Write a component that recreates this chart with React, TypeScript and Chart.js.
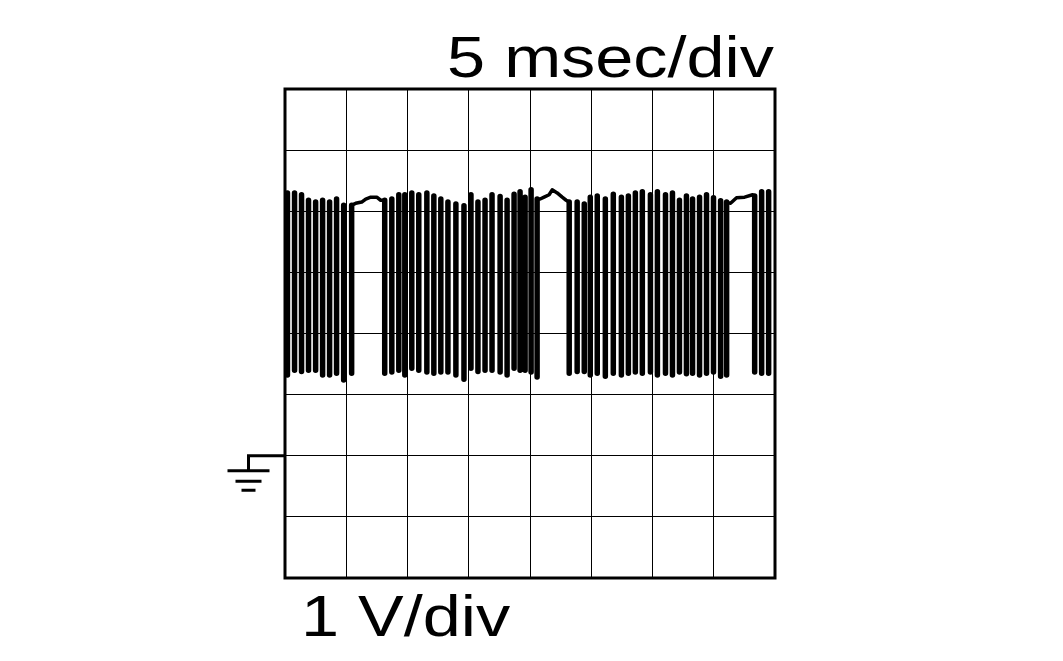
import React, { useEffect, useRef } from "react";
import { Chart, registerables } from "chart.js";

Chart.register(...registerables);

// Labels
const timeDivLabel = "5 msec/div";
const voltDivLabel = "1 V/div";

// Axis ranges (8 x 8 divisions): time in ms, level in V
const xRange = [0, 40];
const yRange = [-2, 6];
const xStep = 5;
const yStep = 1;

// Pulse centres (ms)
const pulseTimes = [
  0.2, 0.78, 1.35, 1.92, 2.5, 3.07, 3.64, 4.21, 4.79, 5.44,
  8.14, 8.72, 9.29, 9.78, 10.35, 10.92, 11.58, 12.15, 12.72, 13.3, 13.95, 14.61,
  15.18, 15.75, 16.33, 16.9, 17.56, 18.13, 18.7, 19.19, 19.6, 20.09, 20.58,
  23.2, 23.85, 24.43, 24.92, 25.49, 26.15, 26.8, 27.46, 28.03, 28.6, 29.17, 29.83,
  30.4, 31.06, 31.63, 32.2, 32.77, 33.27, 33.84, 34.41, 34.98, 35.56, 36.05,
  38.34, 38.91, 39.48,
];
// High level at each pulse (V)
const pulseHigh = [
  4.3, 4.3, 4.27, 4.18, 4.15, 4.18, 4.15, 4.2, 4.1, 4.1,
  4.18, 4.2, 4.27, 4.27, 4.3, 4.27, 4.3, 4.25, 4.2, 4.15, 4.12, 4.09,
  4.27, 4.15, 4.18, 4.27, 4.24, 4.18, 4.28, 4.32, 4.23, 4.35, 4.2,
  4.15, 4.15, 4.12, 4.23, 4.25, 4.2, 4.28, 4.23, 4.25, 4.3, 4.32, 4.27,
  4.32, 4.27, 4.3, 4.18, 4.25, 4.2, 4.23, 4.27, 4.22, 4.17, 4.15,
  4.25, 4.32, 4.32,
];
// Low level at each pulse (V)
const pulseLow = [
  1.32, 1.4, 1.38, 1.4, 1.4, 1.32, 1.32, 1.35, 1.24, 1.35,
  1.35, 1.37, 1.4, 1.32, 1.43, 1.4, 1.37, 1.35, 1.37, 1.37, 1.32, 1.25,
  1.43, 1.38, 1.4, 1.4, 1.37, 1.32, 1.43, 1.4, 1.4, 1.37, 1.29,
  1.35, 1.38, 1.38, 1.32, 1.35, 1.3, 1.35, 1.32, 1.35, 1.37, 1.35, 1.37,
  1.32, 1.35, 1.32, 1.37, 1.34, 1.35, 1.32, 1.35, 1.37, 1.3, 1.32,
  1.37, 1.35, 1.35,
];
// Idle (high) stretches between bursts
const idle1Times = [5.77, 6.26, 6.59, 7.0, 7.49, 7.81];
const idle1Levels = [4.13, 4.15, 4.2, 4.23, 4.23, 4.18];
const idle2Times = [20.83, 21.15, 21.56, 21.81, 22.22, 22.63, 22.95];
const idle2Levels = [4.2, 4.23, 4.27, 4.35, 4.3, 4.23, 4.18];
const idle3Times = [36.37, 36.86, 37.52, 38.17];
const idle3Levels = [4.13, 4.22, 4.23, 4.27];

type Pt = { x: number; y: number | null };

function buildPulses(): Pt[] {
  const pts: Pt[] = [];
  for (let i = 0; i < pulseTimes.length; i++) {
    pts.push({ x: pulseTimes[i], y: pulseHigh[i] });
    pts.push({ x: pulseTimes[i], y: pulseLow[i] });
    pts.push({ x: pulseTimes[i] + 0.01, y: null });
  }
  return pts;
}

function buildIdle(): Pt[] {
  const pts: Pt[] = [];
  const stretches = [
    [idle1Times, idle1Levels],
    [idle2Times, idle2Levels],
    [idle3Times, idle3Levels],
  ];
  stretches.forEach(([ts, vs]) => {
    const first = ts[0];
    const last = ts[ts.length - 1];
    let prev = -1;
    let next = -1;
    for (let i = 0; i < pulseTimes.length; i++) {
      if (pulseTimes[i] < first) prev = i;
      if (next < 0 && pulseTimes[i] > last) next = i;
    }
    if (prev >= 0) pts.push({ x: pulseTimes[prev], y: pulseHigh[prev] });
    ts.forEach((t, k) => pts.push({ x: t, y: vs[k] }));
    if (next >= 0) pts.push({ x: pulseTimes[next], y: pulseHigh[next] });
    pts.push({ x: last + 0.01, y: null });
  });
  return pts;
}

const scopePlugin = {
  id: "scopeDecor",
  afterDraw(chart: any) {
    const { ctx, chartArea } = chart;
    const { left, top, right, bottom } = chartArea;
    const y0 = chart.scales.y.getPixelForValue(0);
    ctx.save();
    ctx.strokeStyle = "#000";
    ctx.fillStyle = "#000";
    ctx.lineWidth = 3;
    ctx.lineCap = "butt";
    ctx.strokeRect(left, top, right - left, bottom - top);

    // ground marker
    const gx = left - 36.5;
    ctx.beginPath();
    ctx.moveTo(left, y0);
    ctx.lineTo(gx - 1.5, y0);
    ctx.moveTo(gx, y0);
    ctx.lineTo(gx, y0 + 15);
    ctx.moveTo(gx - 21, y0 + 15);
    ctx.lineTo(gx + 21, y0 + 15);
    ctx.moveTo(gx - 13, y0 + 25.5);
    ctx.lineTo(gx + 13, y0 + 25.5);
    ctx.moveTo(gx - 7, y0 + 34.5);
    ctx.lineTo(gx + 7, y0 + 34.5);
    ctx.stroke();

    // labels
    const stretch = 1.2;
    ctx.font = '57px "Liberation Sans", Arial, sans-serif';
    ctx.textBaseline = "alphabetic";
    ctx.save();
    ctx.translate(right - 1, top - 12);
    ctx.scale(stretch, 1);
    ctx.textAlign = "right";
    ctx.fillText(timeDivLabel, 0, 0);
    ctx.restore();
    ctx.save();
    ctx.translate(left + 16, bottom + 58);
    ctx.scale(stretch, 1);
    ctx.textAlign = "left";
    ctx.fillText(voltDivLabel, 0, 0);
    ctx.restore();
    ctx.restore();
  },
};

export default function App() {
  const ref = useRef<HTMLCanvasElement>(null);
  useEffect(() => {
    if (!ref.current) return;
    const chart = new Chart(ref.current, {
      type: "line",
      data: {
        datasets: [
          {
            data: buildPulses() as any,
            borderColor: "#000",
            borderWidth: 5.5,
            pointRadius: 0,
            tension: 0,
            spanGaps: false,
            borderCapStyle: "round",
            borderJoinStyle: "round",
          },
          {
            data: buildIdle() as any,
            borderColor: "#000",
            borderWidth: 3.5,
            pointRadius: 0,
            tension: 0,
            spanGaps: false,
            borderCapStyle: "round",
            borderJoinStyle: "round",
          },
        ],
      },
      options: {
        animation: false,
        responsive: false,
        events: [],
        layout: { padding: { left: 285, right: 288, top: 89, bottom: 83 } },
        plugins: { legend: { display: false }, tooltip: { enabled: false }, title: { display: false } },
        scales: {
          x: {
            type: "linear",
            min: xRange[0],
            max: xRange[1],
            ticks: { display: false, stepSize: xStep },
            grid: { color: "#000", lineWidth: 1, drawTicks: false },
            border: { display: false },
          },
          y: {
            type: "linear",
            min: yRange[0],
            max: yRange[1],
            ticks: { display: false, stepSize: yStep },
            grid: { color: "#000", lineWidth: 1, drawTicks: false },
            border: { display: false },
          },
        },
      },
      plugins: [scopePlugin],
    });
    return () => chart.destroy();
  }, []);
  return (
    <div style={{ position: "absolute", left: 0, top: 0, width: 1063, height: 661, background: "#fff" }}>
      <canvas ref={ref} width={1063} height={661} />
    </div>
  );
}
